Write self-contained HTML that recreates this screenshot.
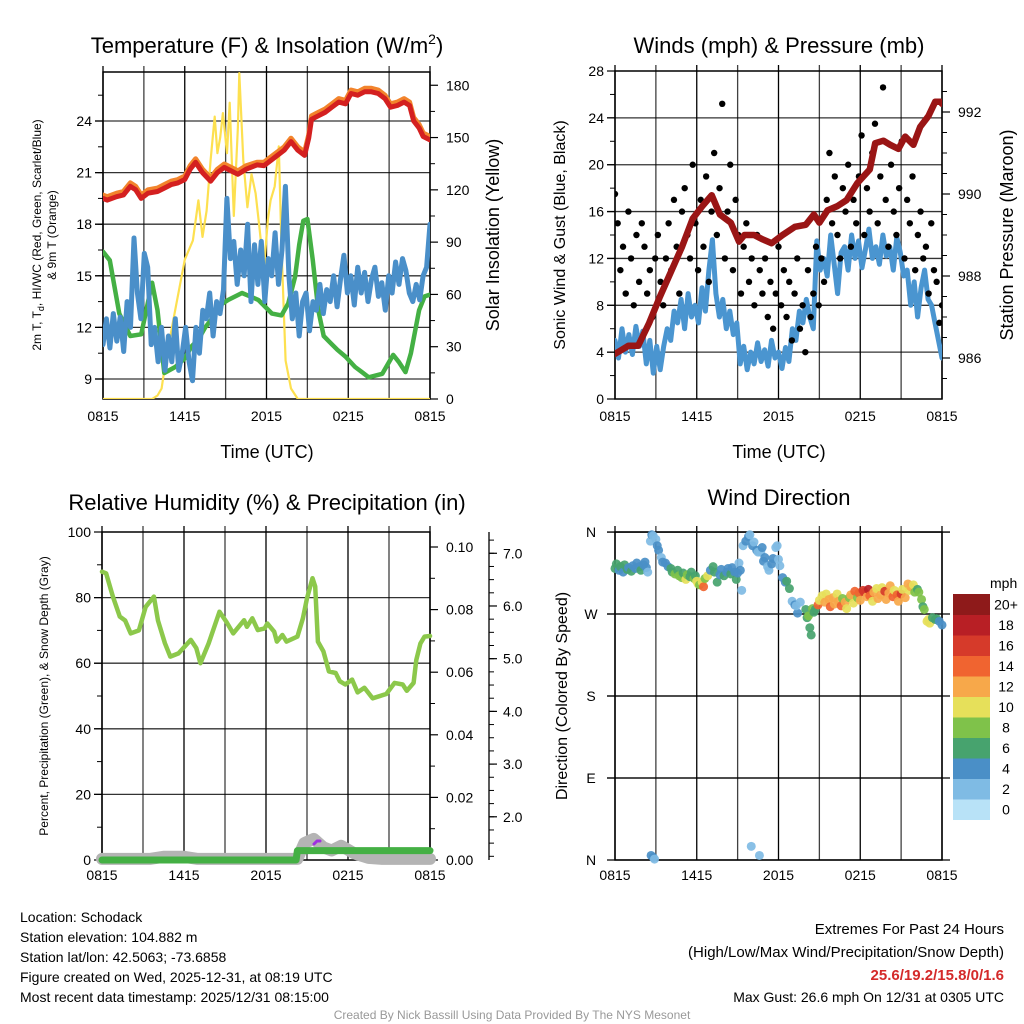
<!DOCTYPE html>
<html><head><meta charset="utf-8">
<style>
body{margin:0;background:#fff;}
svg{display:block;font-family:"Liberation Sans",Arial,sans-serif;}
</style></head>
<body>
<svg id="chart" width="1024" height="1024" viewBox="0 0 1024 1024" xmlns="http://www.w3.org/2000/svg">
<g id="g1"></g>
<g id="g2"></g>
<g id="g3"></g>
<g id="g4"></g>
<text x="267" y="53" font-size="22" text-anchor="middle">Temperature (F) &amp; Insolation (W/m<tspan dy="-9" font-size="14">2</tspan><tspan dy="9">)</tspan></text>
<text x="779" y="53" font-size="22" text-anchor="middle">Winds (mph) &amp; Pressure (mb)</text>
<text x="267" y="510" font-size="22" text-anchor="middle">Relative Humidity (%) &amp; Precipitation (in)</text>
<text x="779" y="505" font-size="22" text-anchor="middle">Wind Direction</text>
<text x="267" y="458" font-size="18" text-anchor="middle">Time (UTC)</text>
<text x="779" y="458" font-size="18" text-anchor="middle">Time (UTC)</text>
<text font-size="12" text-anchor="middle" transform="translate(41,235) rotate(-90)">2m T, T<tspan dy="3" font-size="9">d</tspan><tspan dy="-3">, HI/WC (Red, Green, Scarlet/Blue)</tspan></text>
<text font-size="12" text-anchor="middle" transform="translate(56,235) rotate(-90)">&amp; 9m T (Orange)</text>
<text font-size="18" text-anchor="middle" transform="translate(499,235) rotate(-90)">Solar Insolation (Yellow)</text>
<text font-size="16" text-anchor="middle" transform="translate(565,235) rotate(-90)">Sonic Wind &amp; Gust (Blue, Black)</text>
<text font-size="18" text-anchor="middle" transform="translate(1013,235) rotate(-90)">Station Pressure (Maroon)</text>
<text font-size="12" text-anchor="middle" transform="translate(48,696) rotate(-90)">Percent, Precipitation (Green), &amp; Snow Depth (Gray)</text>
<text font-size="16" text-anchor="middle" transform="translate(567,696) rotate(-90)">Direction (Colored By Speed)</text>
<text x="990" y="588" font-size="14">mph</text>
<g font-size="14">
<text x="20" y="922">Location: Schodack</text>
<text x="20" y="942">Station elevation: 104.882 m</text>
<text x="20" y="962">Station lat/lon: 42.5063; -73.6858</text>
<text x="20" y="982">Figure created on Wed, 2025-12-31, at 08:19 UTC</text>
<text x="20" y="1002">Most recent data timestamp: 2025/12/31 08:15:00</text>
</g>
<g font-size="15" text-anchor="end">
<text x="1004" y="934">Extremes For Past 24 Hours</text>
<text x="1004" y="957">(High/Low/Max Wind/Precipitation/Snow Depth)</text>
<text x="1004" y="980" fill="#d42a2a" font-weight="bold">25.6/19.2/15.8/0/1.6</text>
<text x="1004" y="1002" font-size="14">Max Gust: 26.6 mph On 12/31 at 0305 UTC</text>
</g>
<text x="512" y="1019" font-size="12" fill="#999" text-anchor="middle">Created By Nick Bassill Using Data Provided By The NYS Mesonet</text>
</svg>
<script>
const xLabels=["0815","1415","2015","0215","0815"];
// Panel 1
const redT=[0,0.3,1.0,1.5,2.0,2.4,2.8,3.3,4.0,4.5,5.0,5.5,6.0,6.4,6.8,7.3,7.9,8.4,8.9,9.4,9.9,10.5,11.3,11.8,12.3,12.8,13.3,13.8,14.3,14.8,15.1,15.3,15.8,16.3,16.8,17.3,17.8,18.2,18.7,19.2,19.7,20.2,20.7,21.1,21.6,22.1,22.5,22.8,23.2,23.5,24];
const redV=[19.5,19.4,19.6,19.7,20.2,20.0,19.5,19.8,19.9,20.1,20.3,20.4,20.6,21.2,21.6,21.0,20.5,21.0,21.3,21.1,20.9,21.2,21.45,21.4,21.7,22.0,22.3,22.8,22.3,22.0,23.0,24.1,24.3,24.5,24.8,25.1,25.0,25.6,25.5,25.7,25.7,25.6,25.3,24.8,24.9,25.1,24.9,24.0,23.6,23.1,22.9];
const orangeV=[19.7,19.6,19.8,19.9,20.4,20.2,19.7,20.0,20.1,20.3,20.5,20.6,20.8,21.4,21.8,21.2,20.7,21.2,21.5,21.3,21.1,21.4,21.6,21.6,21.9,22.2,22.5,23.0,22.5,22.2,23.2,24.3,24.5,24.7,25.0,25.3,25.2,25.8,25.7,25.9,25.9,25.8,25.5,25.0,25.1,25.3,25.1,24.2,23.8,23.3,23.1];
const greenT=[0,0.5,1.2,2.0,2.8,3.6,4.0,4.5,5.3,6.0,6.5,7.0,7.5,8.0,8.4,9.2,10.2,10.8,11.4,12.4,13.1,13.6,14.1,14.4,14.7,15.0,15.4,15.8,16.2,16.7,17.2,17.8,18.5,19.0,19.5,20.0,20.5,21.3,21.7,22.2,22.6,23.2,23.6,24];
const greenV=[16.4,15.9,12.8,11.5,11.6,14.6,13.0,9.35,9.7,10.2,10.9,11.3,12.0,12.5,13.2,13.6,14.0,13.8,13.6,12.8,12.7,13.4,14.95,16.8,18.2,18.3,15.9,13.0,11.5,11.1,10.7,10.3,9.7,9.4,9.1,9.2,9.3,10.4,10.0,9.4,10.5,13.0,13.8,13.9];
const blueV=[11,12.5,10.8,12.8,11.2,12.6,10.6,13.5,12,17.2,14,12.5,16.3,15.5,11,12,10,12,9.5,11.5,10,12.5,9.5,10.5,12,10,8.9,12,10.5,13,12.5,14,11.5,13.5,12.8,14.2,19.5,16,17,14.5,16.5,15,18,13.5,16.8,14.5,17,13.5,16,15,17.5,14.5,16.5,20.2,15,12.5,14,11.5,13.5,14,11.8,13.5,13,14.5,12.8,14.2,13.5,15,13.2,14.8,16.2,14,15,13.3,15.5,14,15.2,13.5,14.8,15.5,13.8,14.6,13,15,14,15.8,14.5,16,15.3,14,13.5,14.5,13.6,15,15.5,18];
const insT=[0,3.6,4.0,4.3,4.6,5.3,6.0,6.6,7.0,7.3,7.6,7.9,8.2,8.4,8.6,8.8,9.1,9.3,9.6,9.9,10.0,10.3,10.6,10.9,11.2,11.5,11.8,12.1,12.3,12.6,12.9,13.1,13.4,13.8,14.3,24];
const insV=[0,0,2,6,22,51,80,91,114,93,108,137,162,141,150,164,141,170,105,156,187,137,110,129,118,97,74,103,114,122,145,87,22,6,0,0];
// Panel 2
const presT=[0,1.0,1.7,2.5,3.3,4.1,4.9,5.7,6.4,7.1,7.7,8.5,9.1,9.5,10.2,10.8,11.5,12.3,13.2,14.0,14.6,15.0,15.6,16.3,17.0,17.8,18.7,19.1,19.7,20.2,20.8,21.3,21.9,22.4,23.0,23.5,23.9,24];
const presV=[986.1,986.3,986.3,986.85,987.5,988.1,988.7,989.4,989.7,989.97,989.5,989.3,988.84,989.0,989.0,988.9,988.8,989.0,989.2,989.25,989.5,989.3,989.6,989.7,989.85,990.27,990.6,991.24,991.3,991.2,991.1,991.4,991.2,991.64,991.9,992.25,992.25,992.2];
const windV=[5,3.5,6,4,5.5,3.8,6.2,4.5,5.8,3,5,2.2,4.5,2.5,4.5,6,5,7.5,6.5,8.5,6,9,7,8,6.5,9.5,7.5,11,13.6,9,7,8.5,6,7.5,5.5,6.5,3,4.5,2.5,4,3,4.8,3.2,4.2,2.8,5,3.5,4,2.6,4.4,3.2,6,5,7.5,6.5,8.5,7,6,13.5,11,12,10.5,14,11.5,9,12.5,13,11,14,12,13.5,11.2,12.8,14.5,12,13,11.5,14,12.2,13,11,13.8,12.5,10.5,11,8,10,7,9.5,11,8.5,8,6.5,5,3.5];
const gustV=[17.5,15,11,13,9,16,12,8,14,10,15,13,9,11,7,12,14,10,8,12,15,11,17,13,9,16,18,14,12,20,15,11,17,13,19,10,16,21,14,18,25.2,12,16,20,11,17,14,9,13,15,10,12,8,14,11,9,12,7,10,6,9,13,8,11,7,10,5,9,12,6,8,4,11,7,9,13,8,12,10,17,21,15,19,14,12,18,16,20,13,17,15,19,22.5,14,18,16,21,23.5,15,19,26.6,17,13,20,16,14,18,22,12,17,15,19,11,14,16,12,13,9,15,11,10,6.5,8];
// Panel 3
const rhT=[0,0.3,0.8,1.3,1.7,2.1,2.7,3.2,3.8,4.1,4.6,5.0,5.6,6.5,6.9,7.2,7.8,8.6,9.1,9.6,10.4,10.6,11.0,11.4,11.9,12.1,12.6,12.8,13.2,13.5,14.3,14.7,15.0,15.4,15.6,15.8,16.2,16.6,17.1,17.4,17.8,18.3,18.7,19.2,19.8,20.8,21.4,22.0,22.3,22.8,23.0,23.3,23.6,24];
const rhV=[87.9,87.4,80.3,74.2,73,69.1,70,77.2,80.3,73,66.1,62.0,63,67.1,64.6,60.0,66,75.7,72.6,69.1,73.1,71.1,73.7,70.1,70.6,72.1,69.6,66.6,68.6,66.6,68.1,73.7,79.8,85.9,83.4,66.6,63.6,57.5,57,54.5,53.5,55,51.1,52.5,49.3,50.6,54,53.5,51.6,54,61,66,68.1,68.3];
const precT=[0,14.2,14.3,24];
const precV=[0,0,0.003,0.003];
const snowT=[0,3.5,4.5,6.0,7.0,14.3,14.8,15.5,16.2,16.8,17.5,18.5,19.5,20.5,24];
const snowV=[1.2,1.2,1.24,1.24,1.2,1.2,1.5,1.58,1.42,1.36,1.45,1.3,1.22,1.2,1.2];
// Panel 4
const wdT=[0,0.1,0.3,0.4,0.6,0.7,0.9,1.0,1.2,1.3,1.5,1.6,1.8,1.9,2.1,2.2,2.3,2.4,2.6,2.7,2.8,3.0,3.1,3.2,2.65,2.8,2.9,3.4,3.5,3.7,3.9,4.1,4.2,4.4,4.6,4.7,4.9,5.0,5.2,5.3,5.5,5.6,5.8,5.9,6.0,6.1,6.2,6.4,6.5,6.6,6.8,7.0,7.2,7.3,7.5,7.7,7.8,8.0,8.2,8.3,8.5,8.6,8.8,8.9,9.0,9.1,9.2,9.3,9.4,9.6,9.8,9.9,10.1,10.2,10.4,10.5,10.0,10.6,10.7,10.8,10.9,11.0,11.2,11.3,11.5,11.6,11.8,11.9,12.0,12.1,12.3,12.5,12.6,12.8,13.0,13.2,13.4,13.3,13.6,14.0,14.1,14.2,14.3,14.4,14.5,14.6,14.7,14.9,15.0,15.2,15.4,15.5,15.7,15.8,16.0,16.1,16.3,16.4,16.6,16.7,16.9,17.0,17.2,17.3,17.5,17.6,17.8,17.9,18.0,18.2,18.3,18.5,18.6,18.7,18.9,19.0,19.2,19.3,19.5,19.6,19.8,19.9,20.1,20.2,20.4,20.5,20.7,20.8,21.0,21.1,21.3,21.5,21.6,21.7,21.9,22.0,22.2,22.3,22.5,22.6,22.7,22.9,23.0,23.1,23.3,23.5,23.6,23.8,24.0];
const wdDir=[320,325,318,322,316,324,319,321,317,323,320,326,322,318,324,327,321,316,350,357,356,352,345,340,5,3,1,332,327,326,322,320,316,314,318,312,310,315,308,313,311,316,309,312,306,303,302,305,300,309,312,318,322,316,305,313,319,312,316,320,314,321,316,308,315,326,318,296,345,350,355,357,345,349,340,338,15,5,338,343,328,332,322,318,325,331,343,345,330,323,310,305,306,298,284,280,271,279,283,275,266,268,255,247,276,272,275,280,285,290,283,292,286,278,288,281,292,284,279,287,283,276,288,291,282,295,288,293,285,296,294,289,297,290,284,294,298,287,291,299,295,286,293,301,289,296,291,284,292,297,288,303,296,300,302,294,297,294,286,278,275,262,264,260,266,264,265,262,258];
const wdSpd=[6,7,5,6,4,7,6,5,7,5,4,4,5,7,4,5,4,3,2,4,3,2,4,4,4,4,3,3,4,5,4,6,7,8,6,8,9,7,10,8,6,7,8,6,10,10,8,10,14,9,10,5,6,6,6,5,4,7,5,4,6,4,4,6,4,3,4,2,2,4,4,2,4,3,4,2,2,2,3,4,4,4,3,2,4,4,2,2,2,3,4,4,6,6,3,4,4,2,3,6,7,9,6,7,8,6,7,15,11,10,12,11,13,14,12,13,10,12,14,8,12,10,9,12,10,15,8,14,13,16,17,12,18,14,11,12,10,12,13,11,16,12,12,13,14,11,14,12,16,10,12,12,11,12,10,9,7,8,8,7,8,10,10,10,7,6,7,5,4];
const cbColors=["#b8e2f7","#7fbbe4","#4a8fc7","#47a36e","#7fc24a","#e6e05a","#f7a84a","#f06430","#d63a2a","#b81f25","#8e1a1a"];
const cbLabels=["0","2","4","6","8","10","12","14","16","18","20+"];

const NS="http://www.w3.org/2000/svg";
function mk(parent,tag,attrs){const e=document.createElementNS(NS,tag);for(const k in attrs)e.setAttribute(k,attrs[k]);parent.appendChild(e);return e;}
function lineStr(ts,vs,xf,yf){return ts.map((t,i)=>(i?"L":"M")+xf(t).toFixed(1)+","+yf(vs[i]).toFixed(1)).join("");}
function even(vs){return vs.map((v,i)=>i*24/(vs.length-1));}

function frame(g,x0,x1,y0,y1,ys,yb){
  for(let h=0;h<=24;h+=3){const x=x0+(x1-x0)*h/24;
    const l=mk(g,"line",{x1:x,x2:x,y1:y0-6,y2:y1,stroke:"#000","stroke-width":1.3,"stroke-opacity":h%6===0?1:0.75});
    
    }
  ys.forEach(y=>{const l=mk(g,"line",{x1:x0-8,x2:x1,y1:y,y2:y,stroke:"#000","stroke-width":1.3,"stroke-opacity":0.8});
    
    });
  const r=mk(g,"rect",{x:x0,y:y0,width:x1-x0,height:y1-y0,fill:"none",stroke:"#000","stroke-width":1.5});
  
  
  xLabels.forEach((s,i)=>{const t=mk(g,"text",{x:x0+(x1-x0)*i/4,y:yb,"font-size":14,"text-anchor":"middle"});t.textContent=s;
    
    });
}
function axisTicks(g,x,side,y0,y1,majors,minors,labels,fmt,dx){
  majors.forEach((y,i)=>{mk(g,"line",{x1:x,x2:x+side*8,y1:y,y2:y,stroke:"#000","stroke-width":1.2});
    if(labels){const t=mk(g,"text",{x:x+dx,y:y+5,"font-size":14,"text-anchor":side<0?"end":"start"});t.textContent=labels[i];
    
    }});
  minors.forEach(y=>mk(g,"line",{x1:x,x2:x+side*5,y1:y,y2:y,stroke:"#000","stroke-width":1}));
}
function range(a,b,s){const r=[];for(let v=a;v<=b+1e-9;v+=s)r.push(+v.toFixed(4));return r;}

(function(){
const g=document.getElementById("g1");
const x0=103,x1=430,y0=72,y1=399;
const X=t=>x0+(x1-x0)*t/24, TY=v=>121+(24-v)*17.2, IY=v=>399-v*1.743;
frame(g,x0,x1,y0,y1,[9,12,15,18,21,24].map(TY),421);
axisTicks(g,x0,-1,y0,y1,[9,12,15,18,21,24].map(TY),range(7.5,27,1.5).map(TY).filter(y=>y>y0&&y<y1),["9","12","15","18","21","24"],0,-11);
axisTicks(g,x1,1,y0,y1,range(0,180,30).map(IY),range(15,195,30).map(IY).filter(y=>y>y0),range(0,180,30).map(String),0,16);
const clip=mk(g,"clipPath",{id:"c1"});mk(clip,"rect",{x:x0,y:y0,width:x1-x0,height:y1-y0});
const d=mk(g,"g",{"clip-path":"url(#c1)",fill:"none","stroke-linejoin":"round","stroke-linecap":"round"});
let p;
p=mk(d,"path",{d:lineStr(insT,insV,X,IY),stroke:"#fde050","stroke-width":2.2});


p=mk(d,"path",{d:lineStr(greenT,greenV,X,TY),stroke:"#44b044","stroke-width":4.5});


p=mk(d,"path",{d:lineStr(even(blueV),blueV,X,TY),stroke:"#4a8fc9","stroke-width":5});


p=mk(d,"path",{d:lineStr(redT,orangeV,X,TY),stroke:"#f2842c","stroke-width":5});


p=mk(d,"path",{d:lineStr(redT,redV,X,TY),stroke:"#d42020","stroke-width":5});


})();

(function(){
const g=document.getElementById("g2");
const x0=615,x1=942,y0=71,y1=399;
const X=t=>x0+(x1-x0)*t/24, WY=v=>399-v*11.714, PY=v=>358-(v-986)*41;
frame(g,x0,x1,y0,y1,[4,8,12,16,20,24].map(WY),421);
axisTicks(g,x0,-1,y0,y1,range(0,28,4).map(WY),range(2,26,4).map(WY),range(0,28,4).map(String),0,-11);
axisTicks(g,x1,1,y0,y1,[986,988,990,992].map(PY),range(985.5,993,0.5).map(PY).filter(y=>y>y0&&y<y1),["986","988","990","992"],0,16);
const clip=mk(g,"clipPath",{id:"c2"});mk(clip,"rect",{x:x0,y:y0,width:x1-x0,height:y1-y0});
const d=mk(g,"g",{"clip-path":"url(#c2)",fill:"none","stroke-linejoin":"round","stroke-linecap":"round"});
let p=mk(d,"path",{d:lineStr(even(windV),windV,X,WY),stroke:"#4a95d0","stroke-width":5});


const gt=even(gustV);
gustV.forEach((v,i)=>{const c=mk(d,"circle",{cx:X(gt[i]),cy:WY(v),r:3.2,fill:"#000"});
  
  });
p=mk(d,"path",{d:lineStr(presT,presV,X,PY),stroke:"#9a1515","stroke-width":6.5});


})();

(function(){
const g=document.getElementById("g3");
const x0=102,x1=430,y0=532,y1=860;
const X=t=>x0+(x1-x0)*t/24, RY=v=>860-v*3.28, PRY=v=>860-v*3130, SY=v=>860-(v-1.18)*52.7;
frame(g,x0,x1,y0,y1,[20,40,60,80].map(RY),880);
axisTicks(g,x0,-1,y0,y1,range(0,100,20).map(RY),range(10,90,20).map(RY),["0","20","40","60","80","100"],0,-11);
axisTicks(g,x1,1,y0,y1,range(0,0.1,0.02).map(PRY),range(0.01,0.09,0.02).map(PRY),["0.00","0.02","0.04","0.06","0.08","0.10"],0,16);
const sa=mk(g,"line",{x1:489,x2:489,y1:y0,y2:y1,stroke:"#000","stroke-width":1.3});


axisTicks(g,489,1,y0,y1,range(2,7,1).map(SY),range(1.25,7.5,0.25).map(SY).filter(y=>y>y0&&y<y1),["2.0","3.0","4.0","5.0","6.0","7.0"],0,14);
const d=mk(g,"g",{fill:"none","stroke-linejoin":"round","stroke-linecap":"round"});
let p=mk(d,"path",{d:lineStr(snowT,snowV,X,SY),stroke:"#b4b4b4","stroke-width":12});


p=mk(d,"path",{d:lineStr(precT,precV,X,PRY),stroke:"#44b044","stroke-width":7});


p=mk(d,"path",{d:"M314,844 L317,841 L320,841",stroke:"#a030e0","stroke-width":3});


p=mk(d,"path",{d:lineStr(rhT,rhV,X,RY),stroke:"#8cc84b","stroke-width":4.5});


})();

(function(){
const g=document.getElementById("g4");
const x0=615,x1=942,y0=532,y1=860;
const X=t=>x0+(x1-x0)*t/24, DY=v=>860-v*0.911;
frame(g,x0,x1,y0,y1,[90,180,270].map(DY),880);
[0,90,180,270,360].forEach(v=>mk(g,"line",{x1:x0-8,x2:x1+8,y1:DY(v),y2:DY(v),stroke:"#000","stroke-width":1.3}));
["N","E","S","W","N"].forEach((s,i)=>{const t=mk(g,"text",{x:591,y:DY(i*90)+5,"font-size":14,"text-anchor":"middle"});t.textContent=s;
  
  });
const d=mk(g,"g",{});
wdT.forEach((t,i)=>{const bin=Math.min(10,Math.floor(wdSpd[i]/2));
  const c=mk(d,"circle",{cx:X(t),cy:DY(wdDir[i]),r:4.5,fill:cbColors[bin],"fill-opacity":0.92});
  
  });
const cb=mk(g,"g",{});


const top=594,h=20.5;
cbColors.forEach((c,i)=>{const y=top+(10-i)*h;
  const r=mk(cb,"rect",{x:953,y:y,width:37,height:h+0.5,fill:c});
  
  
  const t=mk(cb,"text",{x:1006,y:y+h/2+5,"font-size":14,"text-anchor":"middle"});t.textContent=cbLabels[i];
  
  });
})();
</script>
</body></html>
